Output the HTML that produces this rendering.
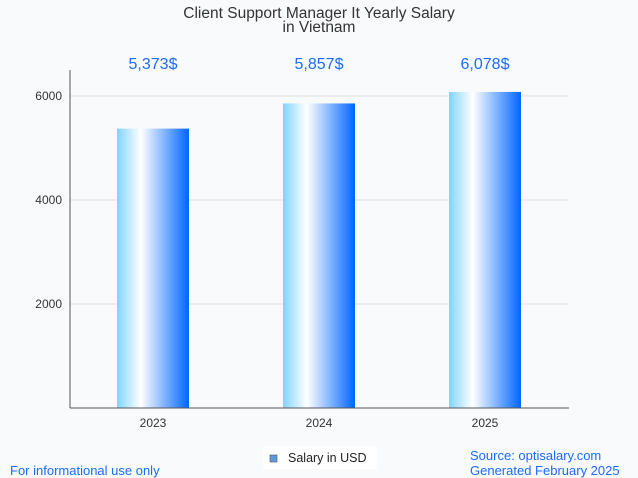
<!DOCTYPE html>
<html><head><meta charset="utf-8"><style>
body{margin:0;background:#f9fafc;font-family:"Liberation Sans",sans-serif}
svg{display:block}
</style></head><body>
<svg width="638" height="478" viewBox="0 0 638 478">
<defs><linearGradient id="bg" x1="0" x2="1" y1="0" y2="0">
<stop offset="0" stop-color="#80d4ff"/><stop offset="0.33" stop-color="#ffffff"/><stop offset="1" stop-color="#0066ff"/>
</linearGradient></defs>
<rect width="638" height="478" fill="#f9fafc"/>
<text x="319" y="18" text-anchor="middle" font-size="15.5" fill="#333">Client Support Manager It Yearly Salary</text>
<text x="319" y="32" text-anchor="middle" font-size="15.5" fill="#333">in Vietnam</text>
<g id="grid"></g>
<g id="bars"></g>
<line x1="70" y1="70" x2="70" y2="408" stroke="#555"/>
<line x1="70" y1="408" x2="569" y2="408" stroke="#555"/>
<rect x="263" y="446" width="114" height="23" fill="#fff"/>
<rect x="270" y="455" width="7" height="7" fill="#5b9bdc" stroke="#555" stroke-width="0.6"/>
<text x="288" y="462" font-size="12.5" fill="#222">Salary in USD</text>
<text x="10" y="475" font-size="13" fill="#1a6cff">For informational use only</text>
<text x="470" y="460" font-size="13" fill="#1a6cff">Source: optisalary.com</text>
<text x="470" y="475" font-size="13" fill="#1a6cff">Generated February 2025</text>
</svg>
<script>
const categories=["2023","2024","2025"];
const values=[5373,5857,6078];
const valueLabels=["5,373$","5,857$","6,078$"];
const yTicks=[2000,4000,6000];
const NS="http://www.w3.org/2000/svg";
const x0=70,x1=568,yBase=408,yTop=70,yMax=6500;
const y=v=>yBase-(v/yMax)*(yBase-yTop);
const band=(x1-x0)/categories.length;
const xc=i=>x0+band*(i+0.5);
function mk(t,a,p){const e=document.createElementNS(NS,t);for(const k in a)e.setAttribute(k,a[k]);p.appendChild(e);return e;}
const g=document.getElementById('grid'),b=document.getElementById('bars');
yTicks.forEach(t=>{
 const l=mk('line',{x1:x0,x2:x1,y1:y(t),y2:y(t),stroke:'#ddd'},g);
 
 
 const tx=mk('text',{x:62,y:y(t)+4,'text-anchor':'end','font-size':12,fill:'#333'},g);
 tx.textContent=t;
 
 
});
categories.forEach((c,i)=>{
 const r=mk('rect',{x:xc(i)-36,y:y(values[i]),width:72,height:yBase-y(values[i]),fill:'url(#bg)'},b);
 
 
 const v=mk('text',{x:xc(i),y:69,'text-anchor':'middle','font-size':16,fill:'#1a6cff'},b);
 v.textContent=valueLabels[i];
 
 
 const xl=mk('text',{x:xc(i),y:427,'text-anchor':'middle','font-size':12,fill:'#333'},b);
 xl.textContent=c;
 
 
});
</script>
</body></html>
